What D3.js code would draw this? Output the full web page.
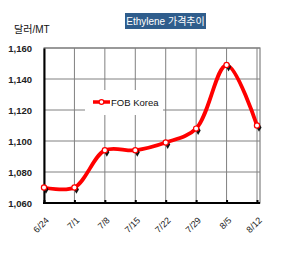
<!DOCTYPE html>
<html>
<head>
<meta charset="utf-8">
<script src="https://cdn.jsdelivr.net/npm/d3@7"></script>
<style>
  body { margin: 0; background: #fff; }
  text { font-family: "Liberation Sans", Arial, "Noto Sans CJK KR", sans-serif; }
</style>
</head>
<body>
<div id="chart"></div>
<script>
var dates = ["6/24", "7/1", "7/8", "7/15", "7/22", "7/29", "8/5", "8/12"];
var fobKorea = [1070, 1070, 1094, 1094, 1099, 1108, 1149, 1110];
var yTicks = [1060, 1080, 1100, 1120, 1140, 1160];

var svg_dx = 299, svg_dy = 258;
var plot = { left: 44, right: 257, top: 48, bottom: 203 };

var svg = d3.select("#chart")
  .append("svg")
  .attr("width", svg_dx)
  .attr("height", svg_dy);

var xScale = d3.scalePoint()
  .domain(dates)
  .range([plot.left, plot.right]);

var yScale = d3.scaleLinear()
  .domain([1060, 1160])
  .range([plot.bottom, plot.top]);

// plot frame
svg.append("rect")
  .attr("x", plot.left)
  .attr("y", plot.top)
  .attr("width", 260 - plot.left)
  .attr("height", plot.bottom - plot.top)
  .attr("fill", "none")
  .attr("stroke", "#808080")
  .attr("stroke-width", 1.2);

// gridlines
svg.append("g")
  .selectAll("line")
  .data(yTicks)
  .enter()
  .append("line")
  .attr("x1", plot.left)
  .attr("x2", 260)
  .attr("y1", d => yScale(d))
  .attr("y2", d => yScale(d))
  .attr("stroke", "#808080")
  .attr("stroke-width", 1);

svg.append("g")
  .selectAll("line")
  .data(dates.slice(1))
  .enter()
  .append("line")
  .attr("x1", d => xScale(d))
  .attr("x2", d => xScale(d))
  .attr("y1", plot.top)
  .attr("y2", plot.bottom)
  .attr("stroke", "#808080")
  .attr("stroke-width", 1);

// y axis
var axis_y = d3.axisLeft(yScale)
  .tickValues(yTicks)
  .tickSize(0)
  .tickPadding(12)
  .tickFormat(d3.format(","));

svg.append("g")
  .attr("id", "axis_y")
  .attr("transform", "translate(" + plot.left + ",0)")
  .call(axis_y)
  .call(g => g.select(".domain").attr("stroke", "#000").attr("stroke-width", 2))
  .selectAll("text")
  .attr("font-size", 9.5)
  .attr("font-weight", "bold")
  .attr("fill", "#222");

// x axis
var axis_x = d3.axisBottom(xScale)
  .tickSize(-3)
  .tickSizeOuter(0)
  .tickPadding(0);

svg.append("g")
  .attr("id", "axis_x")
  .attr("transform", "translate(0," + plot.bottom + ")")
  .call(axis_x)
  .call(g => g.select(".domain").attr("stroke", "#000").attr("stroke-width", 2).attr("d", "M" + (plot.left - 1) + ",0H260"))
  .call(g => g.selectAll(".tick line").attr("stroke", "#000").attr("stroke-width", 2))
  .selectAll("text")
  .attr("font-size", 9)
  .attr("fill", "#222")
  .attr("text-anchor", "end")
  .attr("dy", 0)
  .attr("transform", "translate(5,18) rotate(-45)");

// line
var line = d3.line()
  .x((d, i) => xScale(dates[i]))
  .y(d => yScale(d))
  .curve(d3.curveCatmullRom.alpha(0.5));

svg.append("path")
  .datum(fobKorea)
  .attr("d", line)
  .attr("fill", "none")
  .attr("stroke", "#ff0000")
  .attr("stroke-width", 3.8);

// markers with shadow
var markers = svg.append("g");
markers.selectAll("path.shadow")
  .data(fobKorea)
  .enter()
  .append("path")
  .attr("class", "shadow")
  .attr("d", d3.symbol().type(d3.symbolDiamond).size(22))
  .attr("transform", (d, i) => "translate(" + (xScale(dates[i]) + 2) + "," + (yScale(d) + 2) + ")")
  .attr("fill", "#111");

markers.selectAll("circle")
  .data(fobKorea)
  .enter()
  .append("circle")
  .attr("cx", (d, i) => xScale(dates[i]))
  .attr("cy", d => yScale(d))
  .attr("r", 2.6)
  .attr("fill", "#fff")
  .attr("stroke", "#ff0000")
  .attr("stroke-width", 1.2);

// legend
var legend = svg.append("g");
legend.append("rect")
  .attr("x", 85)
  .attr("y", 90)
  .attr("width", 78)
  .attr("height", 25)
  .attr("fill", "#fff");
legend.append("line")
  .attr("x1", 93).attr("x2", 110)
  .attr("y1", 102).attr("y2", 102)
  .attr("stroke", "#ff0000")
  .attr("stroke-width", 3.5);
legend.append("circle")
  .attr("cx", 101.5).attr("cy", 102).attr("r", 2.4)
  .attr("fill", "#fff")
  .attr("stroke", "#ff0000")
  .attr("stroke-width", 1.2);
legend.append("text")
  .attr("x", 111)
  .attr("y", 105.5)
  .attr("font-size", 9.5)
  .attr("fill", "#111")
  .text("FOB Korea");

// title
svg.append("rect")
  .attr("x", 125)
  .attr("y", 13)
  .attr("width", 81)
  .attr("height", 16)
  .attr("fill", "#2f5d8c");
svg.append("text")
  .attr("x", 165.5)
  .attr("y", 25)
  .attr("text-anchor", "middle")
  .attr("font-size", 10)
  .attr("fill", "#fff")
  .text("Ethylene 가격추이");

// unit label
svg.append("text")
  .attr("x", 14)
  .attr("y", 33)
  .attr("font-size", 10)
  .attr("fill", "#111")
  .text("달러/MT");
</script>
</body>
</html>
